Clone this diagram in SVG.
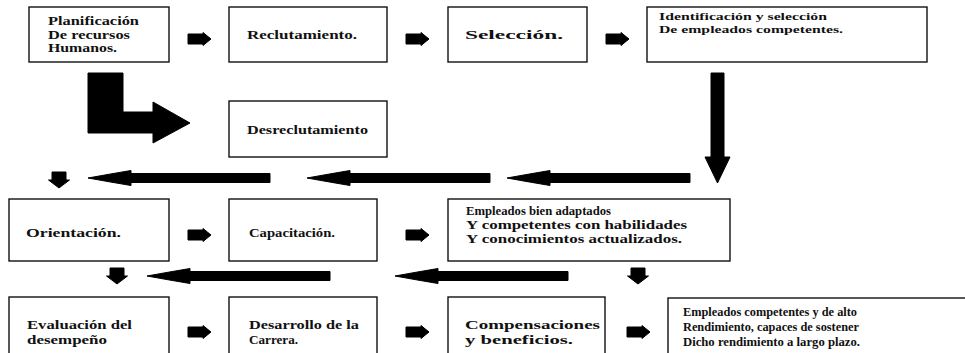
<svg xmlns="http://www.w3.org/2000/svg" xmlns:xlink="http://www.w3.org/1999/xlink" width="965" height="353" viewBox="0 0 965 353">
<style>
.box{fill:#fff;stroke:#111;stroke-width:1.4}
.t{font-family:"Liberation Serif","Times New Roman",serif;font-size:12.5px;font-weight:bold;fill:#111}
.s{font-size:11px}
.ar{fill:#000;stroke:#000;stroke-width:1;stroke-linejoin:round}
</style>
<defs>
<path id="ra" d="M0,-5 H15 V-6.5 L23,0 L15,6.5 V5 H0 Z"/>
<path id="da" d="M-7,0 H7 V8 H10.5 L0,16 L-10.5,8 H-7 Z"/>
</defs>
<rect width="965" height="353" fill="#fff"/>

<g id="connectors" class="ar">
<use xlink:href="#ra" x="188" y="39"/>
<use xlink:href="#ra" x="406" y="39"/>
<use xlink:href="#ra" x="606" y="39"/>
<use xlink:href="#ra" x="188" y="235"/>
<use xlink:href="#ra" x="406" y="235"/>
<use xlink:href="#ra" x="188" y="332"/>
<use xlink:href="#ra" x="406" y="332"/>
<use xlink:href="#ra" x="627" y="332"/>
<use xlink:href="#da" x="59" y="172"/>
<use xlink:href="#da" x="117" y="268"/>
<use xlink:href="#da" x="638" y="268"/>
<path d="M88,73 H123 V112 H153 V102 L190,123 L153,143 V133 H88 Z"/>
<path d="M711,73 H724 V157 H730 L717.5,183 L705,157 H711 Z"/>
<path d="M88,178 Q110,174 131,170.5 V173.5 H270 V182.5 H131 V185.5 Q110,182 88,178 Z"/>
<path d="M307,178 Q329,174 350,170.5 V173.5 H490 V182.5 H350 V185.5 Q329,182 307,178 Z"/>
<path d="M507,178 Q529,174 550,170.5 V173.5 H690 V182.5 H550 V185.5 Q529,182 507,178 Z"/>
<path d="M147,276 Q169,272 190,268.5 V271.5 H330 V280.5 H190 V283.5 Q169,280 147,276 Z"/>
<path d="M395,276 Q417,272 438,268.5 V271.5 H568 V280.5 H438 V283.5 Q417,280 395,276 Z"/>
</g>

<g id="n1"><rect class="box" x="29" y="7" width="140" height="55"/>
<text class="t" x="48" y="25" textLength="91" lengthAdjust="spacingAndGlyphs">Planificación</text>
<text class="t" x="48" y="39" textLength="82" lengthAdjust="spacingAndGlyphs">De recursos</text>
<text class="t" x="48" y="52" textLength="69" lengthAdjust="spacingAndGlyphs">Humanos.</text></g>
<g id="n2"><rect class="box" x="229" y="7" width="158" height="55"/>
<text class="t" x="247" y="39" textLength="110" lengthAdjust="spacingAndGlyphs">Reclutamiento.</text></g>
<g id="n3"><rect class="box" x="448" y="7" width="139" height="55"/>
<text class="t" x="465" y="39" textLength="98" lengthAdjust="spacingAndGlyphs">Selección.</text></g>
<g id="n4"><rect class="box" x="647" y="7" width="280" height="55"/>
<text class="t s" x="659" y="20" textLength="168" lengthAdjust="spacingAndGlyphs">Identificación y selección</text>
<text class="t s" x="659" y="33" textLength="184" lengthAdjust="spacingAndGlyphs">De empleados competentes.</text></g>
<g id="n5"><rect class="box" x="229" y="101" width="158" height="56"/>
<text class="t" x="247" y="134" textLength="121" lengthAdjust="spacingAndGlyphs">Desreclutamiento</text></g>
<g id="n6"><rect class="box" x="9" y="199" width="160" height="62"/>
<text class="t" x="26" y="237" textLength="95" lengthAdjust="spacingAndGlyphs">Orientación.</text></g>
<g id="n7"><rect class="box" x="229" y="199" width="148" height="62"/>
<text class="t" x="249" y="237" textLength="86" lengthAdjust="spacingAndGlyphs">Capacitación.</text></g>
<g id="n8"><rect class="box" x="448" y="199" width="282" height="62"/>
<text class="t" x="466" y="215" textLength="145" lengthAdjust="spacingAndGlyphs">Empleados bien adaptados</text>
<text class="t" x="466" y="229" textLength="221" lengthAdjust="spacingAndGlyphs">Y competentes con habilidades</text>
<text class="t" x="466" y="243" textLength="216" lengthAdjust="spacingAndGlyphs">Y conocimientos actualizados.</text></g>
<g id="n9"><rect class="box" x="9" y="297" width="160" height="60"/>
<text class="t" x="27" y="329" textLength="105" lengthAdjust="spacingAndGlyphs">Evaluación del</text>
<text class="t" x="27" y="344" textLength="80" lengthAdjust="spacingAndGlyphs">desempeño</text></g>
<g id="n10"><rect class="box" x="229" y="297" width="148" height="60"/>
<text class="t" x="249" y="329" textLength="110" lengthAdjust="spacingAndGlyphs">Desarrollo de la</text>
<text class="t" x="249" y="344" textLength="49" lengthAdjust="spacingAndGlyphs">Carrera.</text></g>
<g id="n11"><rect class="box" x="448" y="297" width="157" height="60"/>
<text class="t" x="465" y="329" textLength="135" lengthAdjust="spacingAndGlyphs">Compensaciones</text>
<text class="t" x="465" y="344" textLength="108" lengthAdjust="spacingAndGlyphs">y beneficios.</text></g>
<g id="n12"><rect class="box" x="668" y="298" width="310" height="60"/>
<text class="t" x="683" y="316" textLength="174" lengthAdjust="spacingAndGlyphs">Empleados competentes y de alto</text>
<text class="t" x="683" y="331" textLength="176" lengthAdjust="spacingAndGlyphs">Rendimiento, capaces de sostener</text>
<text class="t" x="683" y="346" textLength="177" lengthAdjust="spacingAndGlyphs">Dicho rendimiento a largo plazo.</text></g>
</svg>
